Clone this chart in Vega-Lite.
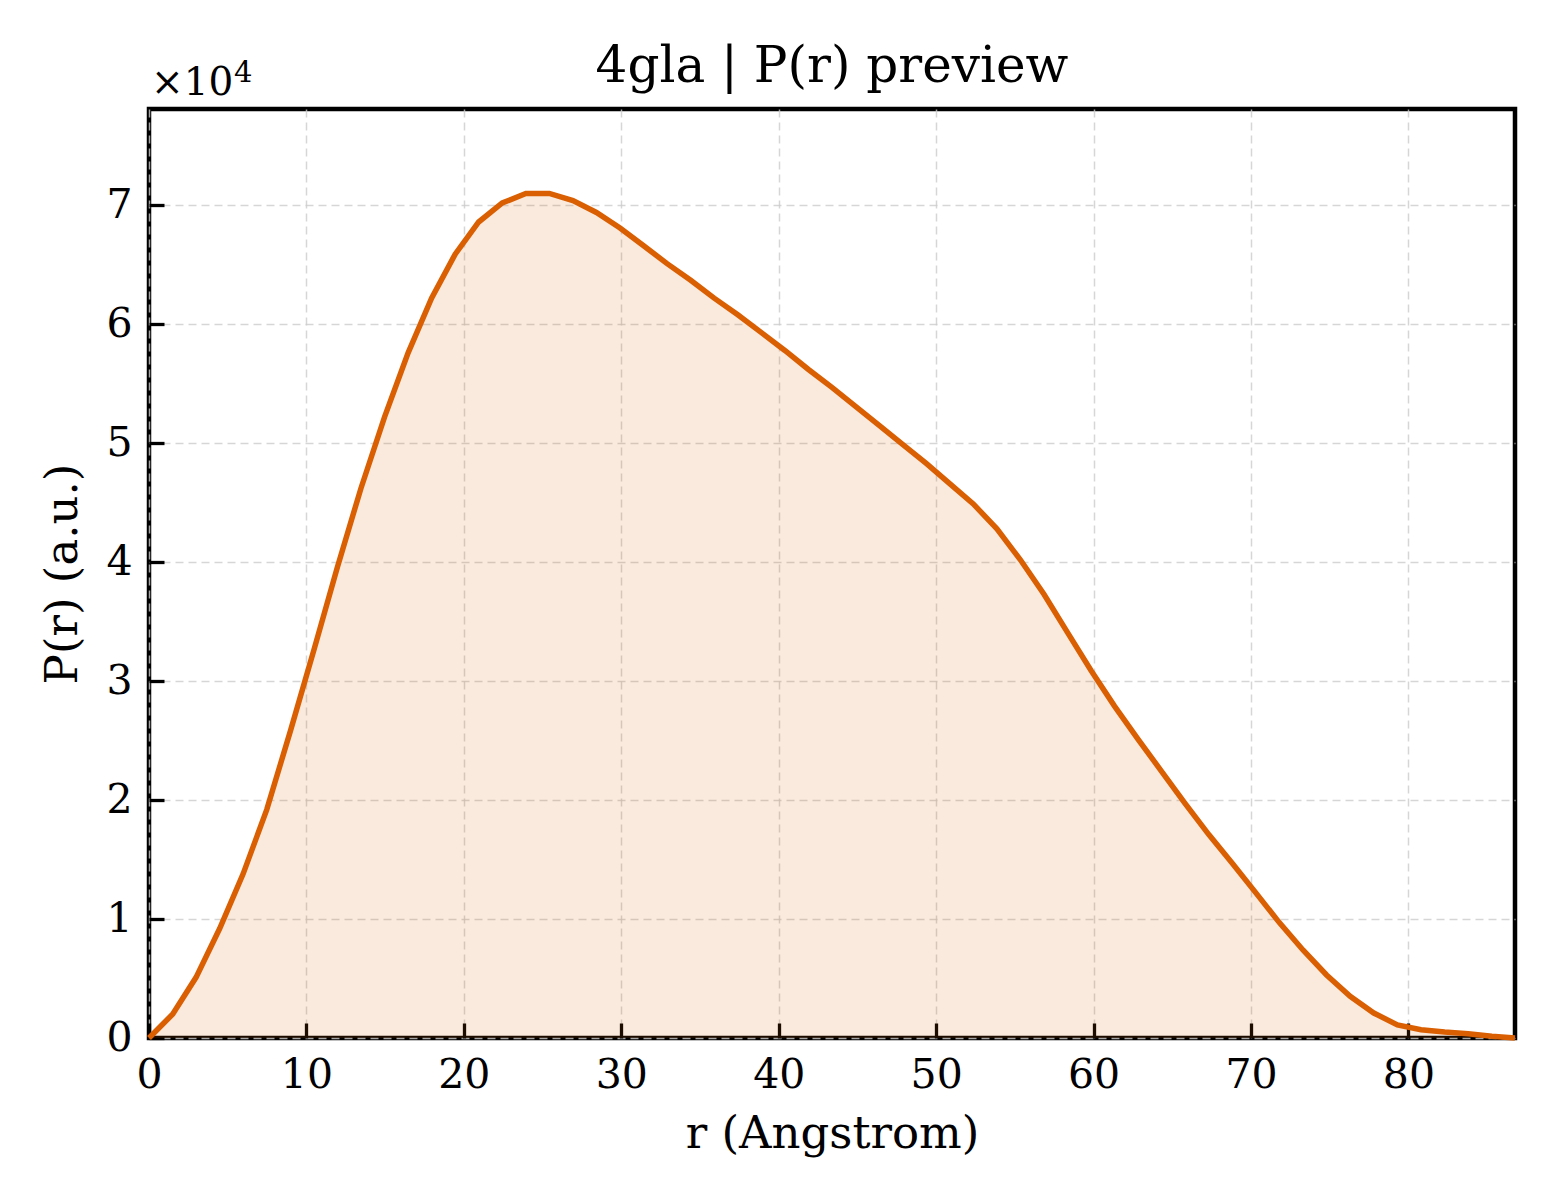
{
  "$schema": "https://vega.github.io/schema/vega-lite/v6.json",
  "width": 1366,
  "height": 929,
  "autosize": {"type": "none"},
  "padding": {"left": 149, "top": 109, "right": 45, "bottom": 162},
  "background": "white",
  "config": {
    "font": "DejaVu Serif",
    "view": {"stroke": "black", "strokeWidth": 4.5}
  },
  "title": {
    "text": "4gla | P(r) preview",
    "font": "DejaVu Serif",
    "fontSize": 50,
    "fontWeight": "normal",
    "color": "black",
    "anchor": "middle",
    "offset": 22,
    "dy": 55
  },
  "resolve": {"axis": {"x": "independent", "y": "independent"}},
  "layer": [
    {
      "data": {
        "values": [
          {"r": 0.0, "p": 0},
          {"r": 1.5, "p": 2000},
          {"r": 2.99, "p": 5100},
          {"r": 4.49, "p": 9200},
          {"r": 5.98, "p": 13800},
          {"r": 7.48, "p": 19200},
          {"r": 8.98, "p": 25800},
          {"r": 10.47, "p": 32600},
          {"r": 11.97, "p": 39600},
          {"r": 13.46, "p": 46200},
          {"r": 14.96, "p": 52200},
          {"r": 16.46, "p": 57600},
          {"r": 17.95, "p": 62200},
          {"r": 19.45, "p": 65900},
          {"r": 20.94, "p": 68600},
          {"r": 22.44, "p": 70200},
          {"r": 23.94, "p": 71000},
          {"r": 25.43, "p": 71000},
          {"r": 26.93, "p": 70400},
          {"r": 28.42, "p": 69400},
          {"r": 29.92, "p": 68100},
          {"r": 31.42, "p": 66600},
          {"r": 32.91, "p": 65100},
          {"r": 34.41, "p": 63700},
          {"r": 35.9, "p": 62200},
          {"r": 37.4, "p": 60800},
          {"r": 38.9, "p": 59300},
          {"r": 40.39, "p": 57800},
          {"r": 41.89, "p": 56200},
          {"r": 43.38, "p": 54700},
          {"r": 44.88, "p": 53100},
          {"r": 46.38, "p": 51500},
          {"r": 47.87, "p": 49900},
          {"r": 49.37, "p": 48300},
          {"r": 50.86, "p": 46600},
          {"r": 52.36, "p": 44900},
          {"r": 53.86, "p": 42800},
          {"r": 55.35, "p": 40200},
          {"r": 56.85, "p": 37300},
          {"r": 58.34, "p": 34100},
          {"r": 59.84, "p": 30900},
          {"r": 61.33, "p": 27900},
          {"r": 62.83, "p": 25100},
          {"r": 64.33, "p": 22400},
          {"r": 65.82, "p": 19700},
          {"r": 67.32, "p": 17100},
          {"r": 68.81, "p": 14700},
          {"r": 70.31, "p": 12200},
          {"r": 71.8, "p": 9700},
          {"r": 73.3, "p": 7400},
          {"r": 74.8, "p": 5300},
          {"r": 76.3, "p": 3500},
          {"r": 77.8, "p": 2100},
          {"r": 79.3, "p": 1100},
          {"r": 80.8, "p": 700},
          {"r": 82.3, "p": 500},
          {"r": 83.8, "p": 350},
          {"r": 85.3, "p": 150},
          {"r": 86.77, "p": 0}
        ]
      },
      "encoding": {
        "x": {
          "field": "r",
          "type": "quantitative",
          "scale": {"domain": [0, 86.77], "nice": false, "zero": false},
          "axis": {
            "values": [0, 10, 20, 30, 40, 50, 60, 70, 80],
            "title": "r (Angstrom)",
            "titleFont": "DejaVu Serif",
            "labelFont": "DejaVu Serif",
            "titleFontWeight": "normal",
            "labelColor": "black",
            "titleColor": "black",
            "labelFontSize": 41,
            "titleFontSize": 45,
            "labelPadding": 32,
            "titlePadding": 16,
            "labelFlush": false,
            "domain": false,
            "ticks": true,
            "tickColor": "black",
            "tickWidth": 3.3,
            "tickSize": -15,
            "gridColor": "#cccccc",
            "gridOpacity": 0.8,
            "gridWidth": 1.5,
            "gridDash": [8, 5]
          }
        },
        "y": {
          "field": "p",
          "type": "quantitative",
          "scale": {"domain": [0, 78100], "nice": false},
          "axis": {
            "values": [0, 10000, 20000, 30000, 40000, 50000, 60000, 70000],
            "labelExpr": "format(datum.value / 10000, 'd')",
            "title": "P(r) (a.u.)",
            "titleFont": "DejaVu Serif",
            "labelFont": "DejaVu Serif",
            "titleFontWeight": "normal",
            "labelColor": "black",
            "titleColor": "black",
            "labelFontSize": 41,
            "titleFontSize": 45,
            "labelPadding": 32,
            "titlePadding": 20,
            "labelFlush": false,
            "domain": false,
            "ticks": true,
            "tickColor": "black",
            "tickWidth": 3.3,
            "tickSize": -15,
            "gridColor": "#cccccc",
            "gridOpacity": 0.8,
            "gridWidth": 1.5,
            "gridDash": [8, 5]
          }
        }
      },
      "layer": [
        {"mark": {"type": "area", "color": "#d95f02", "opacity": 0.13}},
        {"mark": {"type": "line", "color": "#d95f02", "strokeWidth": 5.5}}
      ]
    },
    {
      "data": {"values": [{"label": "×10", "exp": "4"}]},
      "encoding": {
        "x": {"datum": 0, "axis": null},
        "y": {"datum": 78100, "axis": null}
      },
      "layer": [
        {
          "mark": {
            "type": "text",
            "align": "left",
            "baseline": "alphabetic",
            "font": "DejaVu Serif",
            "fontSize": 39,
            "dx": 2,
            "dy": -14,
            "color": "black"
          },
          "encoding": {"text": {"field": "label"}}
        },
        {
          "mark": {
            "type": "text",
            "align": "left",
            "baseline": "alphabetic",
            "font": "DejaVu Serif",
            "fontSize": 29,
            "dx": 85,
            "dy": -27,
            "color": "black"
          },
          "encoding": {"text": {"field": "exp"}}
        }
      ]
    }
  ]
}
